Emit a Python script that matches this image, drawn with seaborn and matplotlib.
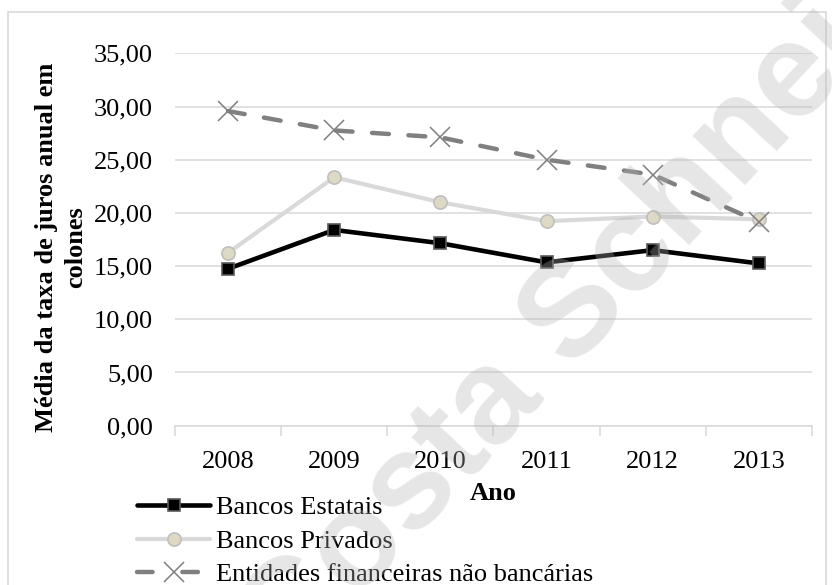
import matplotlib
matplotlib.use("Agg")
import matplotlib.pyplot as plt
import seaborn as sns
import pandas as pd
from matplotlib.patches import Rectangle
from matplotlib.ticker import FuncFormatter

anos = ["2008", "2009", "2010", "2011", "2012", "2013"]
estatais = [14.75, 18.40, 17.15, 15.35, 16.50, 15.25]
privados = [16.25, 23.35, 21.00, 19.22, 19.66, 19.40]
entidades = [29.57, 27.75, 27.10, 25.00, 23.60, 19.15]
series_names = ["Bancos Estatais", "Bancos Privados", "Entidades financeiras não bancárias"]
yticks = [0, 5, 10, 15, 20, 25, 30, 35]

df = pd.DataFrame({
    "Ano": anos * 3,
    "Valor": estatais + privados + entidades,
    "Serie": [series_names[0]] * 6 + [series_names[1]] * 6 + [series_names[2]] * 6,
})

sns.set_theme(style="white")
plt.rcParams["font.family"] = ["Liberation Serif", "DejaVu Serif"]

W, H = 832, 585
FS = 19
fig = plt.figure(figsize=(W / 100, H / 100), dpi=100)
ax = fig.add_axes([175 / W, 1 - 425.7 / H, (812 - 175) / W, (425.7 - 53.3) / H])

fig.patches.append(Rectangle((8 / W, -0.1), (826 - 8) / W, 1.1 - 12 / H,
                             transform=fig.transFigure, fill=False,
                             edgecolor="#d9d9d9", linewidth=1.2, zorder=0))

styles = {
    series_names[0]: dict(color="black", lw=3.3, marker="s", ms=8.5, mfc="black", mec="#595959", mew=1.2, ls="-"),
    series_names[1]: dict(color="#d9d9d9", lw=3.0, marker="o", ms=9.5, mfc="#ddd9c3", mec="#bfbfbf", mew=1.2, ls="-"),
    series_names[2]: dict(color="#808080", lw=3.2, marker="x", ms=15, mfc="#7f7f7f", mec="#7f7f7f", mew=1.1, ls=(0, (3.8, 4.4))),
}

for name in series_names:
    st = styles[name]
    sub = df[df["Serie"] == name]
    sns.lineplot(data=sub, x="Ano", y="Valor", ax=ax, color=st["color"], linewidth=st["lw"],
                 marker=st["marker"], markersize=st["ms"], markerfacecolor=st["mfc"],
                 markeredgecolor=st["mec"], markeredgewidth=st["mew"], label=name,
                 sort=False, zorder=3)
    ax.lines[-1].set_linestyle(st["ls"])
    ax.lines[-1].set_dash_capstyle("round")

ax.set_xlim(-0.5, 5.5)
ax.set_ylim(0, 35)
ax.set_yticks(yticks)
ax.yaxis.set_major_formatter(FuncFormatter(lambda v, p: f"{v:.2f}".replace(".", ",")))
ax.grid(axis="y", color="#d9d9d9", linewidth=1.1)
ax.set_axisbelow(True)
for s in ["top", "right", "left"]:
    ax.spines[s].set_visible(False)
ax.spines["bottom"].set_color("#d9d9d9")
ax.spines["bottom"].set_linewidth(1.1)
ax.set_xticks(range(len(anos)))
ax.set_xticklabels(anos)
ax.set_xticks([i - 0.5 for i in range(len(anos) + 1)], minor=True)
ax.tick_params(axis="x", which="major", length=0, labelsize=FS, pad=18, colors="black")
ax.tick_params(axis="x", which="minor", length=7, width=1.1, color="#d9d9d9", bottom=True)
ax.tick_params(axis="y", length=0, labelsize=FS, pad=16, colors="black")
ax.set_xlabel("Ano", fontsize=FS, fontweight="bold", labelpad=7, color="black")
ax.set_ylabel("Média da taxa de juros anual em\ncolones", fontsize=FS, fontweight="bold",
              linespacing=1.35, color="black")
ax.yaxis.set_label_coords((87 - 175) / 637, (425.7 - 247) / 372.4)

leg = ax.legend(loc="upper left", bbox_to_anchor=(137 / W, 1 - 496 / H), bbox_transform=fig.transFigure,
                frameon=False, fontsize=FS, handlelength=2.77, handletextpad=0.23,
                labelspacing=0.38, borderaxespad=0, borderpad=0)
for t in leg.get_texts():
    t.set_color("black")
leg_lines = leg.get_lines()
if len(leg_lines) >= 3:
    leg_lines[2].set_linestyle((0, (3.5, 6.7)))
    leg_lines[2].set_dash_capstyle("round")

fig.text(627 / W, 1 - 261 / H, "Costa Schneider", fontsize=97, fontweight="bold",
         family="Liberation Sans", color="#b4b4b4", alpha=0.33, rotation=47,
         ha="center", va="center", rotation_mode="anchor", zorder=10)

fig.savefig("out.png", dpi=100)
